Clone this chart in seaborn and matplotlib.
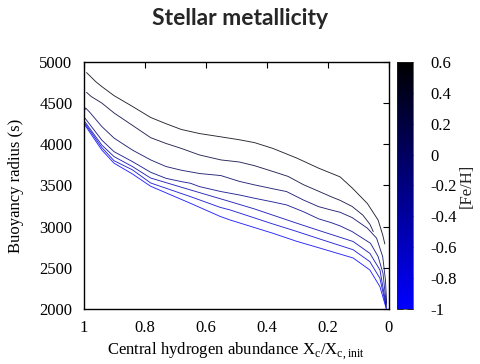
import numpy as np
import pandas as pd
import matplotlib
matplotlib.use("Agg")
import matplotlib.pyplot as plt
from matplotlib.colors import LinearSegmentedColormap, Normalize
import seaborn as sns

# [Fe/H] of each track (top = most metal rich)
feh = [0.5, 0.25, 0.0, -0.25, -0.5, -0.75, -1.0]

# Central hydrogen abundance (Xc/Xc,init) and buoyancy radius (s) for each track
x1 = [0.990, 0.960, 0.940, 0.900, 0.840, 0.780, 0.730, 0.680, 0.620, 0.550, 0.490, 0.440, 0.380, 0.300, 0.230, 0.160, 0.120, 0.070, 0.035, 0.020, 0.013]
y1 = [4870, 4760, 4700, 4590, 4460, 4325, 4250, 4180, 4130, 4090, 4055, 4020, 3950, 3830, 3710, 3605, 3470, 3280, 3080, 2900, 2790]

x2 = [0.990, 0.975, 0.940, 0.900, 0.840, 0.780, 0.730, 0.680, 0.620, 0.550, 0.490, 0.440, 0.380, 0.330, 0.280, 0.230, 0.190, 0.160, 0.120, 0.085, 0.062, 0.051]
y2 = [4630, 4580, 4500, 4380, 4230, 4080, 4010, 3950, 3870, 3810, 3785, 3740, 3670, 3610, 3510, 3430, 3365, 3320, 3245, 3140, 3030, 2940]

x3 = [1.000, 0.993, 0.980, 0.940, 0.900, 0.840, 0.780, 0.730, 0.680, 0.620, 0.550, 0.490, 0.440, 0.380, 0.335, 0.280, 0.230, 0.190, 0.160, 0.120, 0.070, 0.040, 0.020, 0.011, 0.007]
y3 = [4380, 4440, 4390, 4215, 4075, 3930, 3810, 3730, 3685, 3645, 3620, 3550, 3507, 3460, 3426, 3324, 3243, 3203, 3175, 3110, 2981, 2860, 2637, 2353, 2070]

x4 = [1.000, 0.995, 0.940, 0.900, 0.840, 0.780, 0.730, 0.680, 0.650, 0.620, 0.550, 0.490, 0.440, 0.380, 0.335, 0.280, 0.230, 0.190, 0.160, 0.120, 0.060, 0.035, 0.019, 0.008]
y4 = [4290, 4316, 4050, 3910, 3790, 3660, 3587, 3547, 3527, 3486, 3426, 3385, 3345, 3300, 3264, 3182, 3095, 3050, 3010, 2940, 2798, 2637, 2434, 2050]

x5 = [1.000, 0.995, 0.940, 0.900, 0.840, 0.780, 0.650, 0.520, 0.440, 0.380, 0.300, 0.226, 0.117, 0.062, 0.029, 0.008]
y5 = [4250, 4270, 3990, 3850, 3730, 3590, 3446, 3304, 3215, 3140, 3040, 2950, 2820, 2676, 2474, 2030]

x6 = [1.000, 0.995, 0.940, 0.900, 0.840, 0.780, 0.650, 0.553, 0.520, 0.380, 0.300, 0.226, 0.117, 0.062, 0.029, 0.008]
y6 = [4230, 4250, 3960, 3800, 3690, 3530, 3365, 3235, 3203, 3033, 2940, 2850, 2720, 2575, 2373, 2010]

x7 = [1.000, 0.995, 0.940, 0.900, 0.840, 0.780, 0.650, 0.553, 0.520, 0.380, 0.300, 0.226, 0.117, 0.062, 0.029, 0.008]
y7 = [4210, 4230, 3930, 3770, 3640, 3490, 3284, 3125, 3081, 2920, 2820, 2740, 2620, 2474, 2271, 2000]

xs = [x1, x2, x3, x4, x5, x6, x7]
ys = [y1, y2, y3, y4, y5, y6, y7]

xticks = [1, 0.8, 0.6, 0.4, 0.2, 0]
xticklabels = ["1", "0.8", "0.6", "0.4", "0.2", "0"]
yticks = [2000, 2500, 3000, 3500, 4000, 4500, 5000]
cticks = [-1, -0.8, -0.6, -0.4, -0.2, 0, 0.2, 0.4, 0.6]
cticklabels = ["-1", "-0.8", "-0.6", "-0.4", "-0.2", "0", "0.2", "0.4", "0.6"]

frames = []
for f, xv, yv in zip(feh, xs, ys):
    frames.append(pd.DataFrame({"x": xv, "y": yv, "feh": f}))
df = pd.concat(frames, ignore_index=True)

sns.set_theme(style="white")
plt.rcParams["font.family"] = ["Liberation Serif", "DejaVu Serif"]

cmap = LinearSegmentedColormap.from_list("bk", ["#0000ff", "#000000"])
norm = Normalize(vmin=-1, vmax=0.6)
palette = {f: cmap(norm(f)) for f in feh}

fig = plt.figure(figsize=(4.8, 3.64), dpi=100)
ax = fig.add_axes([0.174, 0.151, 0.636, 0.679])
cax = fig.add_axes([0.827, 0.151, 0.034, 0.679])

sns.lineplot(data=df, x="x", y="y", hue="feh", palette=palette, units="feh",
             estimator=None, sort=False, legend=False, linewidth=0.65,
             alpha=0.85, ax=ax)

ax.set_xlim(1.0, 0.0)
ax.set_ylim(2000, 5000)
ax.set_xticks(xticks)
ax.set_xticklabels(xticklabels)
ax.set_yticks(yticks)
ax.tick_params(direction="in", length=4, width=0.8, top=True, right=True,
               labelsize=12, colors="black")
ax.tick_params(axis="y", pad=8)
ax.tick_params(axis="x", pad=8)
for s in ax.spines.values():
    s.set_color("black")
    s.set_linewidth(1.0)
ax.set_xlabel(r"Central hydrogen abundance X$_\mathregular{c}$/X$_\mathregular{c,init}$",
              fontsize=12, color="black", labelpad=3)
ax.set_ylabel("Buoyancy radius (s)", fontsize=12, color="black", labelpad=11)

sm = matplotlib.cm.ScalarMappable(norm=norm, cmap=cmap)
cb = fig.colorbar(sm, cax=cax)
cb.set_ticks(cticks)
cb.set_ticklabels(cticklabels)
cb.outline.set_linewidth(0.5)
cax.tick_params(direction="in", length=4, width=0.6, labelsize=12, pad=12,
                colors="black")
cax.tick_params(which="both", left=True, right=True)
cb.set_label("[Fe/H]", fontsize=12, labelpad=2)

fig.text(0.5, 0.948, "Stellar metallicity", ha="center", va="center",
         fontsize=16.5, fontweight="bold", family=["Lato", "DejaVu Sans"])

fig.savefig("out.png", dpi=100)
